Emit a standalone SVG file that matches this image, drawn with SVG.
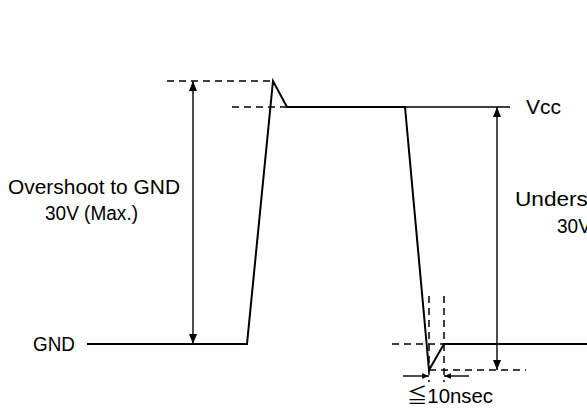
<svg xmlns="http://www.w3.org/2000/svg" width="587" height="409" viewBox="0 0 587 409">
<defs>
<style>
.sig{fill:none;stroke:#000;stroke-width:2;stroke-linejoin:miter}
.thin{fill:none;stroke:#000;stroke-width:1.4}
.dash{fill:none;stroke:#000;stroke-width:1.5;stroke-dasharray:7 5}
.arr{fill:none;stroke:#000;stroke-width:1.4}
text{font-family:"Liberation Sans","Noto Sans CJK JP",sans-serif;font-size:20px;fill:#000}
</style>
<marker id="ah" viewBox="0 0 10 10" refX="10" refY="5" markerWidth="11" markerHeight="10" markerUnits="userSpaceOnUse" orient="auto">
<path d="M0,1 L10,5 L0,9 Z" fill="#000"/>
</marker>
<marker id="ahs" viewBox="0 0 10 10" refX="10" refY="5" markerWidth="7" markerHeight="7" markerUnits="userSpaceOnUse" orient="auto">
<path d="M0,1 L10,5 L0,9 Z" fill="#000"/>
</marker>
</defs>
<rect width="587" height="409" fill="#fff"/>
<g id="connectors">
<polyline id="signal" class="sig" points="87,344 247,344 273,81 287,107 405,107 429,370 444,344 587,344"/>
<line id="vcc-line" class="thin" x1="405" y1="107" x2="510" y2="107"/>
<line class="dash" x1="167" y1="81" x2="273" y2="81"/>
<line class="dash" x1="232" y1="107" x2="287" y2="107"/>
<line class="dash" x1="392" y1="344" x2="444" y2="344"/>
<line class="dash" x1="429" y1="296" x2="429" y2="382"/>
<line class="dash" x1="444" y1="296" x2="444" y2="382"/>
<line class="dash" x1="429" y1="370" x2="526" y2="370"/>
<line id="overshoot-arrow" class="arr" x1="193" y1="212" x2="193" y2="81" marker-end="url(#ah)"/>
<line class="arr" x1="193" y1="212" x2="193" y2="344" marker-end="url(#ah)"/>
<line id="undershoot-arrow" class="arr" x1="497" y1="238" x2="497" y2="107" marker-end="url(#ah)"/>
<line class="arr" x1="497" y1="238" x2="497" y2="370" marker-end="url(#ah)"/>
<line class="arr" x1="403" y1="376" x2="429" y2="376" marker-end="url(#ahs)"/>
<line class="arr" x1="469" y1="376" x2="444" y2="376" marker-end="url(#ahs)"/>
</g>
<g id="label-gnd"><text x="33" y="351" textLength="42" lengthAdjust="spacingAndGlyphs">GND</text></g>
<g id="label-vcc"><text x="526" y="114" textLength="35" lengthAdjust="spacingAndGlyphs">Vcc</text></g>
<g id="label-overshoot">
<text x="8" y="194" textLength="172" lengthAdjust="spacingAndGlyphs">Overshoot to GND</text>
<text x="45" y="220" textLength="93" lengthAdjust="spacingAndGlyphs">30V (Max.)</text>
</g>
<g id="label-undershoot">
<text x="515" y="206" textLength="186" lengthAdjust="spacingAndGlyphs">Undershoot to Vcc</text>
<text x="557" y="233" textLength="93" lengthAdjust="spacingAndGlyphs">30V (Max.)</text>
</g>
<g id="label-time"><text x="407" y="403" textLength="86" lengthAdjust="spacingAndGlyphs">≦10nsec</text></g>
</svg>
